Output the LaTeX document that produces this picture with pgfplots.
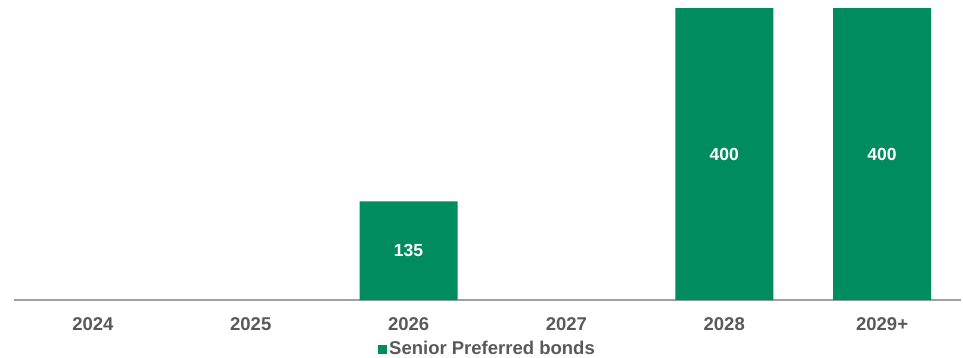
\documentclass[border=0pt]{standalone}
\usepackage{pgfplots}
\pgfplotsset{compat=1.18}
\usepackage{fontspec}
\setmainfont{Liberation Sans}
\definecolor{bargreen}{RGB}{0,140,95}
\definecolor{txtgray}{RGB}{89,89,89}
\definecolor{axgray}{RGB}{160,160,160}
\begin{document}
\begin{tikzpicture}
\begin{axis}[
  scale only axis,
  width=947pt, height=292pt,
  xmin=-0.5, xmax=5.5, ymin=0, ymax=400,
  axis y line=none,
  axis x line*=bottom,
  x axis line style={draw=axgray, line width=1.3pt, -},
  xtick={0,1,2,3,4,5},
  xticklabels={2024,2025,2026,2027,2028,2029+},
  major tick length=0pt,
  xticklabel style={font=\bfseries\fontsize{18.5}{21}\selectfont, text=txtgray, yshift=-14pt},
  clip=false,
  legend style={at={(0.5,0)}, anchor=center, yshift=-49pt, draw=none, fill=none,
    font=\bfseries\fontsize{18.5}{21}\selectfont, text=txtgray,
    legend cell align=left, inner sep=0pt, /tikz/every even column/.append style={column sep=2pt}},
  legend image code/.code={\fill[bargreen] (-1pt,-4.5pt) rectangle (8pt,4.5pt);},
]
\addplot[ybar, bar width=98pt, fill=bargreen, draw=none] coordinates {(2,135) (4,400) (5,400)};
\addlegendentry{Senior Preferred bonds}
\addplot[forget plot, draw=none, mark=none, nodes near coords, point meta=explicit symbolic,
  every node near coord/.style={anchor=center, text=white, font=\bfseries\fontsize{17.5}{20}\selectfont}]
  coordinates {(2,67.5)[135] (4,200)[400] (5,200)[400]};
\end{axis}
\pgfresetboundingbox
\useasboundingbox ([shift={(-14pt,-57pt)}]current axis.south west) rectangle ([shift={(949pt,300pt)}]current axis.south west);
\end{tikzpicture}
\end{document}
